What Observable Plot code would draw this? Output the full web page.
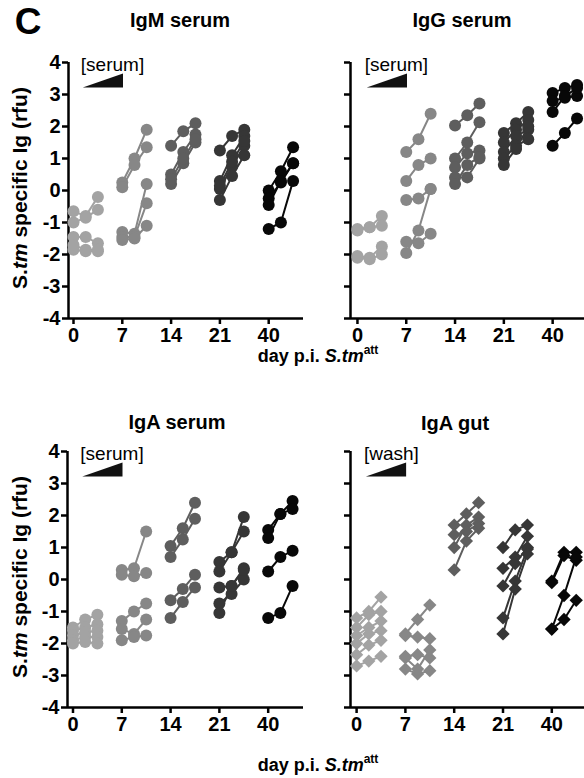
<!DOCTYPE html>
<html><head><meta charset="utf-8">
<script src="https://cdn.jsdelivr.net/npm/d3@7"></script>
<script src="https://cdn.jsdelivr.net/npm/@observablehq/plot@0.6"></script>
<style>
html,body{margin:0;padding:0;background:#fff;overflow:hidden}
#root{position:relative;width:584px;height:778px;font-family:"Liberation Sans",Arial,sans-serif;color:#000}
.abs{position:absolute;white-space:nowrap;transform:translate(-50%,-50%);font-weight:bold}
.title{font-size:20px}
.big{font-size:37px;line-height:1}
.ylab{font-size:21px;transform:translate(-50%,-50%) rotate(-90deg)}
.xlab{font-size:18px}
.xlab sup{font-size:12px;vertical-align:0.6em;line-height:0}
.panel{position:absolute}
</style></head>
<body><div id="root"></div>
<script>
// ---- data ----
const dayLabels = [0, 7, 14, 21, 40];
const dayColors = ["#a3a3a3", "#878787", "#5e5e5e", "#363636", "#080808"];
const panelTitles = ["IgM serum", "IgG serum", "IgA serum", "IgA gut"];
const annotations = ["[serum]", "[serum]", "[serum]", "[wash]"];
const yTicks = [-4, -3, -2, -1, 0, 1, 2, 3, 4];

// each day: list of mice, each mouse: values at 3 increasing concentrations
const igmSerum = [
  [[-0.65,-0.8,-0.2],[-1.0,-0.85,-0.6],[-1.45,-1.45,-1.65],[-1.85,-1.9,-1.9],[-1.7,-1.85,-1.85]],
  [[0.25,1.0,1.9],[0.1,0.8,1.35],[-1.3,-1.35,0.2],[-1.45,-1.45,-0.4],[-1.55,-1.5,-1.1]],
  [[1.4,1.85,2.1],[0.5,1.2,1.75],[0.2,0.85,1.5],[0.35,1.0,1.6]],
  [[1.25,1.7,1.9],[0.3,1.1,1.7],[0.05,0.75,1.4],[-0.3,0.45,1.1],[0.15,0.9,1.55]],
  [[0.0,0.6,1.35],[-0.25,0.25,0.85],[-0.45,0.3,0.85],[-1.2,-1.0,0.3]]
];
const iggSerum = [
  [[-1.2,-1.15,-0.8],[-1.25,-1.15,-1.1],[-2.05,-2.1,-1.75],[-2.1,-2.15,-2.0]],
  [[1.2,1.6,2.4],[0.3,0.8,1.0],[-0.3,-0.25,0.05],[-1.95,-1.25,0.05],[-1.6,-1.65,-1.35]],
  [[2.03,2.35,2.72],[1.0,1.5,2.13],[0.72,1.16,1.25],[0.41,0.41,1.0],[0.2,0.8,1.05]],
  [[1.8,2.1,2.45],[1.5,1.9,2.2],[1.2,1.7,1.9],[1.0,1.4,1.6],[0.8,1.3,2.0]],
  [[3.05,3.2,3.3],[2.8,2.9,2.95],[2.45,2.95,3.2],[1.4,1.8,2.25]]
];
const igaSerum = [
  [[-1.5,-1.25,-1.1],[-1.6,-1.5,-1.4],[-1.75,-1.65,-1.6],[-1.9,-1.8,-1.8],[-2.0,-1.95,-2.0]],
  [[0.3,0.35,1.5],[0.15,0.1,0.2],[-1.3,-1.0,-0.75],[-1.55,-1.7,-1.25],[-1.9,-1.8,-1.75]],
  [[1.05,1.6,2.4],[0.7,1.25,1.9],[-0.65,-0.3,0.15],[-1.2,-0.7,-0.25]],
  [[0.55,0.85,1.95],[0.25,0.85,1.5],[-0.25,-0.2,0.35],[-0.75,-0.45,0.0],[-1.05,-0.2,0.3]],
  [[1.55,2.05,2.45],[1.3,2.05,2.2],[0.25,0.7,0.9],[-1.2,-1.05,-0.2]]
];
const igaGut = [
  [[-1.2,-1.0,-0.55],[-1.5,-1.1,-1.0],[-1.75,-1.5,-1.3],[-2.0,-1.7,-1.6],[-2.35,-2.05,-1.9],[-2.7,-2.55,-2.4]],
  [[-1.7,-1.25,-0.8],[-1.75,-1.8,-1.85],[-2.4,-2.35,-2.45],[-2.8,-2.95,-2.85],[-2.45,-2.8,-2.2]],
  [[1.7,2.05,2.4],[1.0,1.7,1.95],[0.3,1.2,1.6],[1.4,1.5,1.75]],
  [[1.0,1.55,1.7],[0.35,0.7,1.35],[-0.2,0.5,1.0],[-1.2,-0.05,0.95],[-1.7,-0.3,0.8]],
  [[-0.05,0.85,0.85],[-0.1,0.75,0.6],[-1.55,-0.5,0.7],[-1.55,-1.25,-0.65]]
];

// ---- layout ----
const panelData = [igmSerum, iggSerum, igaSerum, igaGut];
const symbols = ["circle", "circle", "circle", "diamond2"];
const showYLabels = [true, false, true, false];
const layout = [
  {left: 0, top: 0, width: 310, mL: 68, mR: 7, u0: -0.41},
  {left: 290, top: 0, width: 294, mL: 60, mR: 0, u0: -0.57},
  {left: 0, top: 389, width: 310, mL: 67, mR: 7, u0: -0.45},
  {left: 290, top: 389, width: 294, mL: 60, mR: 0, u0: -0.5}
];
const pxPerUnit = 12.2;
const H = 350, mT = 62, mB = 32;

const root = document.getElementById("root");

function rows(days, p) {
  const out = [];
  days.forEach((mice, di) => mice.forEach((vals, mi) => vals.forEach((v, k) => {
    out.push({id: p + "-" + di + "-" + mi, day: dayLabels[di], x: di * 4 + k, y: v});
  })));
  return out;
}

panelData.forEach((days, p) => {
  const L = layout[p];
  const plotW = L.width - L.mL - L.mR;
  const u1 = L.u0 + plotW / pxPerUnit;
  const data = rows(days, p);
  const wedge = [{x: 0.8, y1: 3.2, y2: 3.2}, {x: 4.1, y1: 3.2, y2: 3.64}];
  const chart = Plot.plot({
    width: L.width, height: H,
    marginLeft: L.mL, marginRight: L.mR, marginTop: mT, marginBottom: mB,
    x: {domain: [L.u0, u1], axis: null},
    y: {domain: [-4, 4], axis: null},
    color: {type: "ordinal", domain: dayLabels, range: dayColors},
    style: {fontFamily: '"Liberation Sans", Arial, sans-serif', background: "transparent", overflow: "visible"},
    marks: [
      Plot.axisY({ticks: yTicks, tickSize: 6, strokeWidth: 2.5, tickPadding: 2, fontSize: 20, fontWeight: "bold", label: null,
        tickFormat: showYLabels[p] ? (d => d) : (() => "")}),
      Plot.axisX({ticks: [0, 4, 8, 12, 16], tickFormat: d => dayLabels[d / 4], tickSize: 6, strokeWidth: 2.5, tickPadding: 3, fontSize: 20, fontWeight: "bold", label: null}),
      Plot.ruleX([L.u0], {strokeWidth: 2.5}),
      Plot.ruleY([-4], {strokeWidth: 2.5}),
      Plot.areaY(wedge, {x: "x", y1: "y1", y2: "y2", fill: "#111"}),
      Plot.text([annotations[p]], {x: 0.6, y: 3.92, text: d => d, textAnchor: "start", lineAnchor: "middle", fontSize: 19}),
      Plot.line(data, {x: "x", y: "y", z: "id", stroke: "day", strokeWidth: 2}),
      Plot.dot(data, {x: "x", y: "y", fill: "day", r: 6, symbol: symbols[p]})
    ]
  });
  chart.classList.add("panel");
  chart.style.left = L.left + "px";
  chart.style.top = L.top + "px";
  root.appendChild(chart);
});

// ---- text ----
function addText(html, cls, x, y) {
  const d = document.createElement("div");
  d.className = "abs " + cls;
  d.style.left = x + "px";
  d.style.top = y + "px";
  d.innerHTML = html;
  root.appendChild(d);
}
addText("C", "big", 28, 21);
addText(panelTitles[0], "title", 180, 20);
addText(panelTitles[1], "title", 462, 20);
addText(panelTitles[2], "title", 177, 422);
addText(panelTitles[3], "title", 455, 423);
const ylab = "S.<i>tm</i> specific Ig (rfu)";
addText(ylab, "ylab", 20, 188);
addText(ylab, "ylab", 20, 577);
const xlab = "day p.i. <i>S.tm</i><sup>att</sup>";
addText(xlab, "xlab", 318, 356);
addText(xlab, "xlab", 318, 765);
</script></body></html>
